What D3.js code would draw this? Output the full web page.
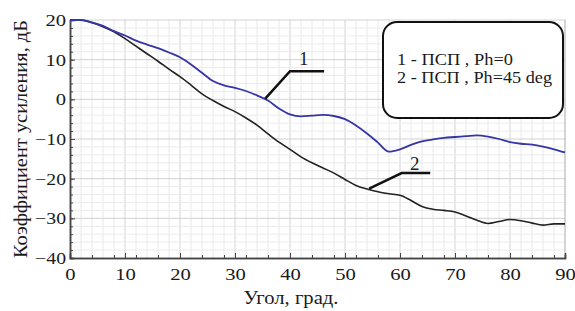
<!DOCTYPE html>
<html>
<head>
<meta charset="utf-8">
<script src="https://cdn.jsdelivr.net/npm/d3@7"></script>
<style>
  html, body { margin: 0; padding: 0; background: #fff; }
</style>
</head>
<body>
<div id="chart"></div>
<script>
// Angle grid (degrees) shared by both curves
const angles = [0, 2, 4, 6, 8, 10, 12, 14, 16, 18, 20, 22, 24, 26, 28, 30, 32, 34, 36, 38, 40, 42, 44,
  46, 48, 50, 52, 54, 56, 58, 60, 62, 64, 66, 68, 70, 72, 74, 76, 78, 80, 82, 84, 86, 88, 90];

// 1 - ПСП, Ph=0
const gain1 = [20, 20, 19.4, 18.5, 17.2, 16.1, 14.8, 13.8, 12.9, 11.8, 10.6, 8.8, 6.7, 4.6, 3.5, 2.9, 2.1, 1.0,
  -0.3, -2.3, -3.8, -4.3, -4.1, -3.9, -4.2, -5.0, -6.6, -8.6, -10.9, -13.2, -12.6, -11.5, -10.6, -10.1,
  -9.7, -9.5, -9.3, -9.1, -9.4, -10.0, -10.8, -11.2, -11.4, -11.9, -12.6, -13.4];

// 2 - ПСП, Ph=45 deg
const gain2 = [20, 20, 19.3, 18.3, 17.0, 15.3, 13.4, 11.5, 9.6, 7.6, 5.7, 3.6, 1.4, -0.3, -1.8, -3.1, -4.7,
  -6.5, -8.7, -10.8, -12.6, -14.5, -16.0, -17.3, -18.6, -20.2, -21.7, -22.6, -23.3, -23.8, -24.2, -25.5,
  -27.0, -27.7, -28.0, -28.4, -29.4, -30.5, -31.3, -30.8, -30.3, -30.6, -31.2, -31.7, -31.4, -31.4];

const xTicks = [0, 10, 20, 30, 40, 50, 60, 70, 80, 90];
const yTicks = [-40, -30, -20, -10, 0, 10, 20];

const legendLines = ['1 - ПСП , Ph=0', '2 - ПСП , Ph=45 deg'];
const xTitle = 'Угол, град.';
const yTitle = 'Коэффициент усиления, дБ';

// leader lines: [anchor on curve, kink, end], label position
const callouts = [
  { label: '1', pts: [[35.5, 0.2], [40, 7.1], [46.2, 7.1]], at: [42.5, 8.6] },
  { label: '2', pts: [[54.4, -22.5], [60.3, -18.6], [65.5, -18.6]], at: [62.7, -17.9] },
];

const SERIF = "'Liberation Serif', 'Times New Roman', serif";
const W = 575, H = 311;
const M = { top: 20, right: 10, bottom: 53, left: 70 };

const x = d3.scaleLinear().domain([0, 90]).range([M.left, W - M.right]);
const y = d3.scaleLinear().domain([-40, 20]).range([H - M.bottom, M.top]);

const svg = d3.select('#chart').append('svg')
  .attr('width', W).attr('height', H);

// ── Grid ────────────────────────────────────────────────────────────────
const grid = svg.append('g');
grid.selectAll('line.vx')
  .data(d3.range(2, 90, 2)).enter().append('line')
  .attr('x1', d => x(d)).attr('x2', d => x(d))
  .attr('y1', y(20)).attr('y2', y(-40))
  .attr('stroke', d => d % 10 === 0 ? '#d2d2d2' : '#e8e8e8')
  .attr('stroke-width', 1);
grid.selectAll('line.hy')
  .data(d3.range(-38, 21, 2)).enter().append('line')
  .attr('x1', x(0)).attr('x2', x(90))
  .attr('y1', d => y(d)).attr('y2', d => y(d))
  .attr('stroke', d => d % 10 === 0 ? '#d2d2d2' : '#ececec')
  .attr('stroke-width', 1);
// right frame edge
svg.append('line')
  .attr('x1', x(90)).attr('x2', x(90))
  .attr('y1', y(20)).attr('y2', y(-40))
  .attr('stroke', '#aaa');

// ── Axes ────────────────────────────────────────────────────────────────
const axisStyle = g => {
  g.select('.domain').attr('stroke', '#444').attr('stroke-width', 1.5);
  g.selectAll('.tick line').attr('stroke', '#444');
};

svg.append('g')
  .attr('transform', `translate(0,${y(-40)})`)
  .call(d3.axisBottom(x).tickValues(d3.range(0, 91, 4)).tickSize(-3).tickFormat(''))
  .call(axisStyle);
svg.append('g')
  .attr('transform', `translate(${x(0)},0)`)
  .call(d3.axisLeft(y).tickValues(d3.range(-40, 21, 2)).tickSize(-3).tickFormat(''))
  .call(axisStyle);

const xAxis = svg.append('g')
  .attr('transform', `translate(0,${y(-40)})`)
  .call(d3.axisBottom(x).tickValues(xTicks).tickSize(-5).tickPadding(10))
  .call(axisStyle);
const yAxis = svg.append('g')
  .attr('transform', `translate(${x(0)},0)`)
  .call(d3.axisLeft(y).tickValues(yTicks).tickSize(-5).tickPadding(4))
  .call(axisStyle);

[xAxis, yAxis].forEach(a => a.selectAll('.tick text')
  .style('font-size', '17px')
  .style('font-family', SERIF)
  .style('fill', '#1a1a1a')
  .attr('textLength', d => String(d).length * 10.3)
  .attr('lengthAdjust', 'spacingAndGlyphs'));

// axis titles
svg.append('text')
  .attr('x', 291).attr('y', 304)
  .attr('text-anchor', 'middle')
  .style('font-family', SERIF).style('font-size', '18px').style('fill', '#1a1a1a')
  .attr('textLength', 95).attr('lengthAdjust', 'spacingAndGlyphs')
  .text(xTitle);

svg.append('text')
  .attr('transform', `translate(27,${(y(20) + y(-40)) / 2}) rotate(-90)`)
  .attr('text-anchor', 'middle')
  .style('font-family', SERIF).style('font-size', '18px').style('fill', '#1a1a1a')
  .attr('textLength', 238).attr('lengthAdjust', 'spacingAndGlyphs')
  .text(yTitle);

// ── Curves ──────────────────────────────────────────────────────────────
const line = d3.line()
  .x((d, i) => x(angles[i]))
  .y(d => y(d))
  .curve(d3.curveMonotoneX);

svg.append('path')
  .datum(gain2)
  .attr('d', line)
  .attr('fill', 'none')
  .attr('stroke', '#222')
  .attr('stroke-width', 1.6);

svg.append('path')
  .datum(gain1)
  .attr('d', line)
  .attr('fill', 'none')
  .attr('stroke', '#3535a6')
  .attr('stroke-width', 1.8);

// ── Callouts ────────────────────────────────────────────────────────────
callouts.forEach(c => {
  svg.append('path')
    .attr('d', d3.line().x(p => x(p[0])).y(p => y(p[1]))(c.pts))
    .attr('fill', 'none')
    .attr('stroke', '#111')
    .attr('stroke-width', 2.5);
  svg.append('text')
    .attr('x', x(c.at[0])).attr('y', y(c.at[1]))
    .attr('text-anchor', 'middle')
    .style('font-family', SERIF).style('font-size', '19px').style('fill', '#1a1a1a')
    .text(c.label);
});

// ── Legend box ──────────────────────────────────────────────────────────
svg.append('rect')
  .attr('x', 383).attr('y', 22)
  .attr('width', 180).attr('height', 96)
  .attr('rx', 14).attr('ry', 14)
  .attr('fill', '#fff')
  .attr('stroke', '#111')
  .attr('stroke-width', 2);

const legendWidths = [116, 155];
legendLines.forEach((t, i) => {
  svg.append('text')
    .attr('x', 397).attr('y', 65 + i * 18)
    .style('font-family', SERIF).style('font-size', '17px').style('fill', '#1a1a1a')
    .attr('textLength', legendWidths[i]).attr('lengthAdjust', 'spacingAndGlyphs')
    .text(t);
});
</script>
</body>
</html>
